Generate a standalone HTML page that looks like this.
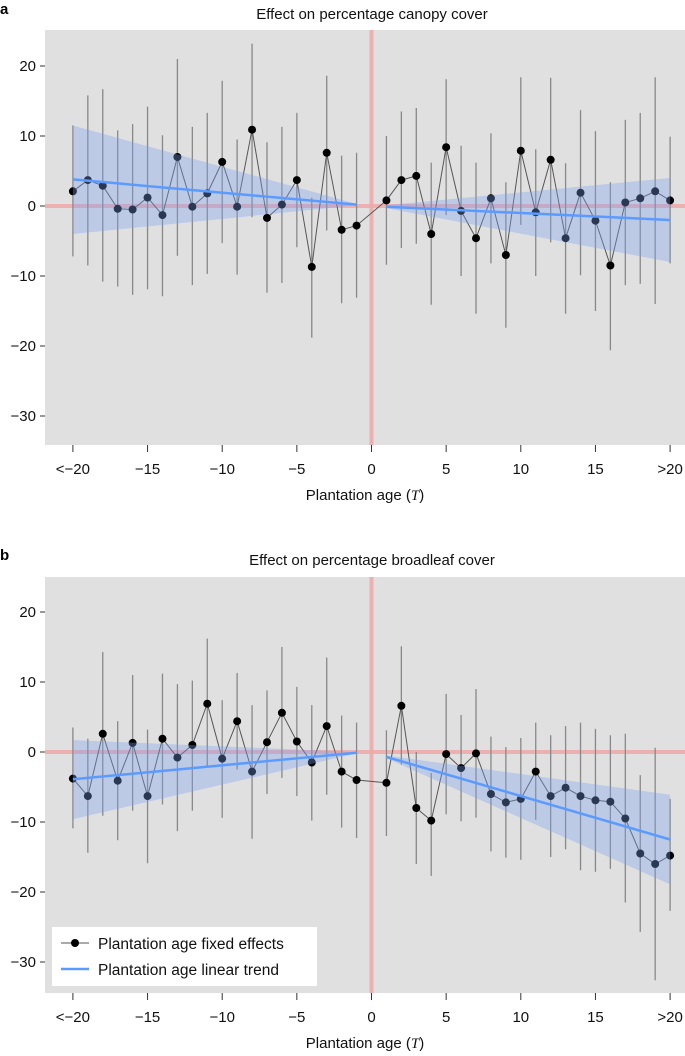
<!DOCTYPE html>
<html><head><meta charset="utf-8"><style>
html,body{margin:0;padding:0;background:#fff;}
svg{display:block;font-family:"Liberation Sans",Arial,sans-serif;}
</style></head><body>
<svg id="chart" width="685" height="1056" viewBox="0 0 685 1056" xmlns="http://www.w3.org/2000/svg"></svg>
<script>
// ---- data ----
const agesLeft = [-20,-19,-18,-17,-16,-15,-14,-13,-12,-11,-10,-9,-8,-7,-6,-5,-4,-3,-2,-1];
const agesRight = [1,2,3,4,5,6,7,8,9,10,11,12,13,14,15,16,17,18,19,20];
const xTickValues = [-20,-15,-10,-5,0,5,10,15,20];
const xTickLabels = ["<\u221220","\u221215","\u221210","\u22125","0","5","10","15",">20"];
const yTickValues = [20,10,0,-10,-20,-30];
const yTickLabels = ["20","10","0","\u221210","\u221220","\u221230"];

const canopyEst = [2.1,3.7,2.9,-0.4,-0.5,1.2,-1.3,7.0,-0.1,1.8,6.3,-0.1,10.9,-1.7,0.2,3.7,-8.7,7.6,-3.4,-2.8,
  0.8,3.7,4.3,-4.0,8.4,-0.7,-4.6,1.1,-7.0,7.9,-0.9,6.6,-4.6,1.9,-2.1,-8.5,0.5,1.1,2.1,0.8];
const canopyHi = [11.5,15.8,16.7,10.8,11.7,14.2,10.1,21.0,11.3,13.3,17.9,9.5,23.2,9.1,11.3,13.3,1.2,18.6,7.2,7.6,
  10.0,13.5,14.0,6.2,18.1,8.6,6.2,10.4,3.4,18.4,8.1,18.3,6.1,13.7,10.7,3.4,12.3,13.3,18.4,9.9];
const canopyLo = [-7.2,-8.5,-10.8,-11.5,-12.7,-11.9,-12.9,-7.1,-11.3,-9.7,-5.3,-9.8,-1.6,-12.4,-11.0,-5.9,-18.8,-3.5,-13.9,-13.1,
  -8.4,-6.0,-5.4,-14.1,-1.3,-10.0,-15.4,-8.2,-17.4,-2.7,-10.0,-5.2,-15.4,-9.9,-15.0,-20.6,-11.3,-11.1,-14.0,-8.2];
const canopyTrendLeft = [3.8,0.2];
const canopyBandLeftHi = [11.5,0.3];
const canopyBandLeftLo = [-4.0,0.1];
const canopyTrendRight = [-0.1,-2.0];
const canopyBandRightHi = [0.1,4.0];
const canopyBandRightLo = [-0.3,-8.0];

const broadEst = [-3.8,-6.3,2.6,-4.1,1.3,-6.3,1.9,-0.8,1.0,6.9,-0.95,4.4,-2.8,1.4,5.6,1.5,-1.5,3.7,-2.8,-4.0,
  -4.4,6.6,-8.0,-9.8,-0.3,-2.3,-0.2,-6.0,-7.2,-6.7,-2.8,-6.3,-5.1,-6.3,-6.9,-7.1,-9.5,-14.5,-16.0,-14.8];
const broadHi = [3.5,1.9,14.3,4.4,11.0,3.2,11.2,9.7,10.2,16.2,7.4,11.3,6.7,8.8,15.0,9.3,6.7,13.5,5.2,4.2,
  3.1,15.1,0.0,-3.0,8.3,5.3,9.0,2.2,0.7,2.0,4.2,2.4,3.7,4.2,3.3,2.4,2.6,-3.3,0.6,-6.7];
const broadLo = [-10.9,-14.4,-9.1,-12.6,-8.4,-15.9,-7.5,-11.3,-8.4,-2.0,-9.4,-2.5,-12.4,-6.0,-3.7,-6.3,-9.8,-6.1,-10.8,-12.3,
  -12.0,-1.8,-16.0,-17.7,-8.9,-9.9,-9.4,-14.2,-15.1,-15.4,-9.7,-15.0,-13.9,-16.9,-17.1,-16.7,-21.5,-25.7,-32.6,-22.7];
const broadTrendLeft = [-3.9,-0.1];
const broadBandLeftHi = [1.7,0.0];
const broadBandLeftLo = [-9.6,-0.2];
const broadTrendRight = [-0.7,-12.5];
const broadBandRightHi = [-0.5,-6.1];
const broadBandRightLo = [-0.9,-18.9];

// ---- drawing ----
const svg = document.getElementById('chart');
const NS = 'http://www.w3.org/2000/svg';
function mk(tag, attrs, parent, text){
  const e = document.createElementNS(NS, tag);
  for (const k in attrs) e.setAttribute(k, attrs[k]);
  if (text !== undefined) e.textContent = text;
  (parent||svg).appendChild(e);
  return e;
}
const xScale = v => 371.5 + v * 14.93;

function panel(cfg){
  const g = mk('g', {});
  
  
  const yScale = v => cfg.y0 - v * 7.0;
  const bg = mk('rect', {x:45, y:cfg.top, width:640, height:cfg.bottom-cfg.top, fill:'#e0e0e0'}, g);
  
  
  const h0 = mk('line', {x1:45, x2:685, y1:yScale(0), y2:yScale(0), stroke:'#f0a8a8', 'stroke-width':4, opacity:0.85}, g);
  
  
  const v0 = mk('line', {x1:xScale(0), x2:xScale(0), y1:cfg.top, y2:cfg.bottom, stroke:'#f0a8a8', 'stroke-width':4, opacity:0.85}, g);
  
  
  const ages = agesLeft.concat(agesRight);
  ages.forEach((a,i)=>{
    const l = mk('line', {x1:xScale(a), x2:xScale(a), y1:yScale(cfg.hi[i]), y2:yScale(cfg.lo[i]), stroke:'#888', 'stroke-width':1.3}, g);
    
    
  });
  const pts = ages.map((a,i)=>xScale(a)+','+yScale(cfg.est[i])).join(' ');
  const pl = mk('polyline', {points:pts, fill:'none', stroke:'#555', 'stroke-width':1}, g);
  
  
  ages.forEach((a,i)=>{
    const c = mk('circle', {cx:xScale(a), cy:yScale(cfg.est[i]), r:4, fill:'#000'}, g);
    
    
  });
  [[agesLeft, cfg.bLH, cfg.bLL, cfg.tL],[agesRight, cfg.bRH, cfg.bRL, cfg.tR]].forEach(([ag,hi,lo,tr])=>{
    const a0 = ag[0], a1 = ag[ag.length-1];
    const poly = [xScale(a0)+','+yScale(hi[0]), xScale(a1)+','+yScale(hi[1]), xScale(a1)+','+yScale(lo[1]), xScale(a0)+','+yScale(lo[0])].join(' ');
    const b = mk('polygon', {points:poly, fill:'rgba(120,160,240,0.35)'}, g);
    
    
    const t = mk('line', {x1:xScale(a0), y1:yScale(tr[0]), x2:xScale(a1), y2:yScale(tr[1]), stroke:'#5b9bff', 'stroke-width':2.5}, g);
    
    
  });
  yTickValues.forEach((v,i)=>{
    mk('line', {x1:40, x2:45, y1:yScale(v), y2:yScale(v), stroke:'#333', 'stroke-width':1}, g);
    const t = mk('text', {x:36, y:yScale(v)+5, 'text-anchor':'end', 'font-size':15, fill:'#111'}, g, yTickLabels[i]);
    
    
  });
  xTickValues.forEach((v,i)=>{
    mk('line', {x1:xScale(v), x2:xScale(v), y1:cfg.bottom, y2:cfg.bottom+7, stroke:'#333', 'stroke-width':1}, g);
    const t = mk('text', {x:xScale(v), y:cfg.bottom+29, 'text-anchor':'middle', 'font-size':15, fill:'#111'}, g, xTickLabels[i]);
    
    
  });
  const xt = mk('text', {x:365, y:cfg.bottom+55, 'text-anchor':'middle', 'font-size':15, fill:'#111'}, g);
  
  
  xt.innerHTML = 'Plantation age (<tspan font-family="Liberation Serif" font-style="italic">T</tspan>)';
  const ti = mk('text', {x:372, y:cfg.titleY, 'text-anchor':'middle', 'font-size':15, fill:'#111'}, g, cfg.title);
  
  
  const pl2 = mk('text', {x:0, y:cfg.titleY-5, 'font-size':15, 'font-weight':'bold', fill:'#000'}, g, cfg.letter);
  
  
}

panel({name:'panel-a-canopy', letter:'a', title:'Effect on percentage canopy cover', titleY:19,
  top:30, bottom:445, y0:206, est:canopyEst, hi:canopyHi, lo:canopyLo,
  tL:canopyTrendLeft, bLH:canopyBandLeftHi, bLL:canopyBandLeftLo,
  tR:canopyTrendRight, bRH:canopyBandRightHi, bRL:canopyBandRightLo});
panel({name:'panel-b-broadleaf', letter:'b', title:'Effect on percentage broadleaf cover', titleY:565,
  top:577, bottom:993, y0:752, est:broadEst, hi:broadHi, lo:broadLo,
  tL:broadTrendLeft, bLH:broadBandLeftHi, bLL:broadBandLeftLo,
  tR:broadTrendRight, bRH:broadBandRightHi, bRL:broadBandRightLo});

const lg = mk('g', {});


mk('rect', {x:52, y:927, width:265, height:59, fill:'#fff'}, lg);
const e1 = mk('g', {}, lg);


mk('line', {x1:61, x2:89, y1:943, y2:943, stroke:'#555', 'stroke-width':1}, e1);
mk('circle', {cx:75, cy:943, r:4, fill:'#000'}, e1);
mk('text', {x:98, y:949, 'font-size':15.5, fill:'#111'}, e1, 'Plantation age fixed effects');
const e2 = mk('g', {}, lg);


mk('line', {x1:61, x2:89, y1:969, y2:969, stroke:'#5b9bff', 'stroke-width':2.5}, e2);
mk('text', {x:98, y:975, 'font-size':15.5, fill:'#111'}, e2, 'Plantation age linear trend');
</script>
</body></html>
